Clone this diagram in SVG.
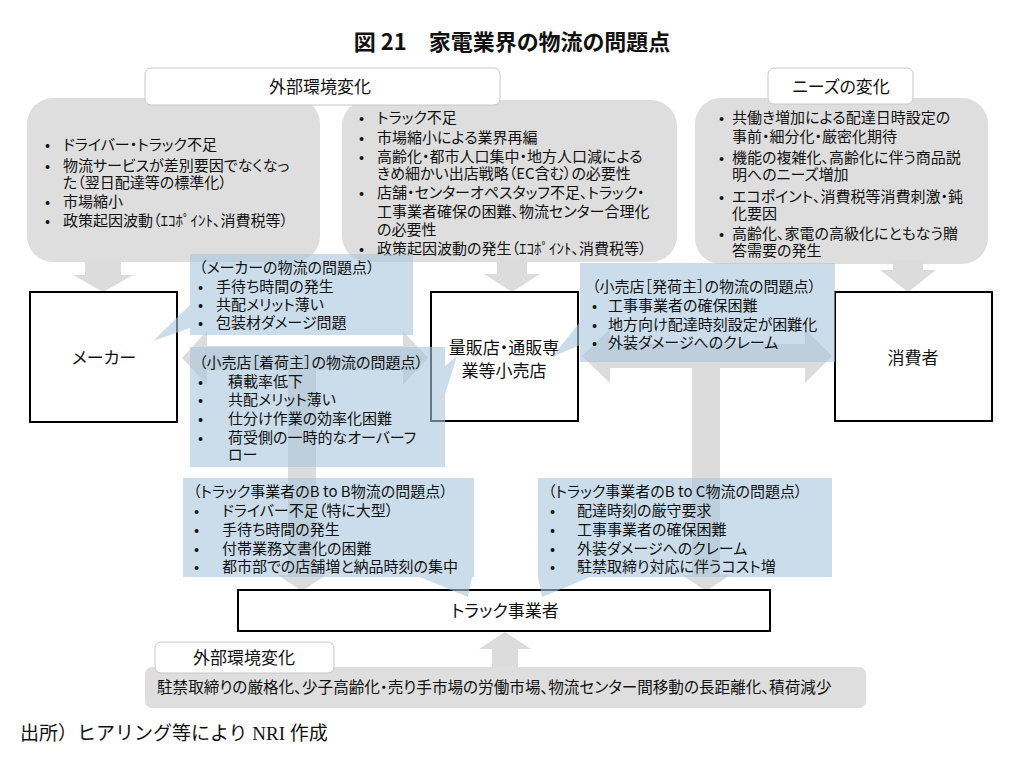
<svg xmlns="http://www.w3.org/2000/svg" width="1024" height="762" viewBox="0 0 1024 762">
<style>
text{font-family:"Noto Sans CJK JP","Noto Sans",sans-serif;font-feature-settings:"palt" 1;fill:#111}
.t{font-size:15px}
.bar{font-size:15.6px}
.lb{font-size:17px}
.nd{font-size:17px}
.gbox{fill:#dedede}
.arr{fill:#dcdcdc}
.node{fill:#fff;stroke:#000;stroke-width:2}
.blue{fill:#a9c6dc;fill-opacity:0.6}
.lbl{fill:#fff;stroke:#c8c8c8;stroke-width:1}
</style>
<rect width="1024" height="762" fill="#fff"/>
<text x="512" y="50" text-anchor="middle" style="font-size:22px;font-weight:bold">図 21　家電業界の物流の問題点</text>

<g id="env-top-left">
<rect class="gbox" x="27" y="98" width="293" height="164" rx="26"/>
<text class="t" x="45" y="150">•</text><text class="t" x="63" y="150">ドライバー・トラック不足</text>
<text class="t" x="45" y="171">•</text><text class="t" x="63" y="171">物流サービスが差別要因でなくなっ</text>
<text class="t" x="63" y="188">た（翌日配達等の標準化）</text>
<text class="t" x="45" y="207">•</text><text class="t" x="63" y="207">市場縮小</text>
<text class="t" x="45" y="226">•</text><text class="t" x="63" y="226">政策起因波動（ｴｺﾎﾟｲﾝﾄ、消費税等）</text>
</g>
<g id="env-top-mid">
<rect class="gbox" x="342" y="100" width="335" height="162" rx="26"/>
<text class="t" x="359" y="123">•</text><text class="t" x="377" y="123">トラック不足</text>
<text class="t" x="359" y="143">•</text><text class="t" x="377" y="143">市場縮小による業界再編</text>
<text class="t" x="359" y="162">•</text><text class="t" x="377" y="162">高齢化・都市人口集中・地方人口減による</text>
<text class="t" x="377" y="179">きめ細かい出店戦略（EC含む）の必要性</text>
<text class="t" x="359" y="198">•</text><text class="t" x="377" y="198">店舗・センターオペスタッフ不足、トラック・</text>
<text class="t" x="377" y="217">工事業者確保の困難、物流センター合理化</text>
<text class="t" x="377" y="235">の必要性</text>
<text class="t" x="359" y="254">•</text><text class="t" x="377" y="254">政策起因波動の発生（ｴｺﾎﾟｲﾝﾄ、消費税等）</text>
</g>
<g id="needs-top-right">
<rect class="gbox" x="695" y="98" width="293" height="166" rx="26"/>
<text class="t" x="719" y="123">•</text><text class="t" x="732" y="123">共働き増加による配達日時設定の</text>
<text class="t" x="732" y="142">事前・細分化・厳密化期待</text>
<text class="t" x="719" y="163">•</text><text class="t" x="732" y="163">機能の複雑化、高齢化に伴う商品説</text>
<text class="t" x="732" y="180">明へのニーズ増加</text>
<text class="t" x="719" y="202">•</text><text class="t" x="732" y="202">エコポイント、消費税等消費刺激・鈍</text>
<text class="t" x="732" y="219">化要因</text>
<text class="t" x="719" y="239">•</text><text class="t" x="732" y="239">高齢化、家電の高級化にともなう贈</text>
<text class="t" x="732" y="256">答需要の発生</text>
</g>
<g id="label-env-top">
<rect class="lbl" x="145" y="68" width="355" height="37" rx="6"/>
<text class="lb" x="320" y="93" text-anchor="middle">外部環境変化</text>
</g>
<g id="label-needs">
<rect class="lbl" x="768" y="68" width="145" height="36" rx="6"/>
<text class="lb" x="841" y="93" text-anchor="middle">ニーズの変化</text>
</g>

<g id="connectors">
<polygon class="arr" points="85,258 121,258 121,275 133,275 103,292 73,275 85,275"/>
<polygon class="arr" points="497,258 527,258 527,274 540,274 512,292 484,274 497,274"/>
<polygon class="arr" points="893,260 923,260 923,270 936,270 908,292 880,270 893,270"/>
<polygon class="arr" points="182,358 207,331 207,346 403,346 403,331 428,358 403,385 403,370 207,370 207,385"/>
<polygon class="arr" points="288,360 316,360 316,575 326,575 302,591 278,575 288,575"/>
<polygon class="arr" points="582,356 610,329 610,344 805,344 805,329 832,356 805,383 805,368 610,368 610,383"/>
<polygon class="arr" points="692,358 720,358 720,575 730,575 706,591 682,575 692,575"/>
<polygon class="arr" points="492,668 518,668 518,649 531,649 505,632 479,649 492,649"/>
</g>

<g id="maker"><rect class="node" x="30" y="292" width="147" height="130"/>
<text class="nd" x="104" y="364" text-anchor="middle">メーカー</text></g>
<g id="retailer"><rect class="node" x="431" y="292" width="147" height="129"/>
<text class="nd" x="504" y="354" text-anchor="middle">量販店・通販専</text>
<text class="nd" x="504" y="377" text-anchor="middle">業等小売店</text></g>
<g id="consumer"><rect class="node" x="835" y="292" width="157" height="129"/>
<text class="nd" x="913" y="364" text-anchor="middle">消費者</text></g>
<g id="trucker"><rect class="node" x="238" y="590" width="532" height="41"/>
<text class="nd" x="505" y="617" text-anchor="middle">トラック事業者</text></g>

<g id="issue-maker">
<path class="blue" d="M190,254 H413 V335 H190 V328 L153,341 L190,305 Z"/>
<text class="t" x="199" y="273">（メーカーの物流の問題点）</text>
<text class="t" x="198" y="292">•</text><text class="t" x="216" y="292">手待ち時間の発生</text>
<text class="t" x="198" y="310">•</text><text class="t" x="216" y="310">共配メリット薄い</text>
<text class="t" x="198" y="328">•</text><text class="t" x="216" y="328">包装材ダメージ問題</text>
</g>
<g id="issue-retail-receive">
<path class="blue" d="M190,347 H445 V366 L457,356 L445,394 V467 H190 Z"/>
<text class="t" x="199" y="368">（小売店［着荷主］の物流の問題点）</text>
<text class="t" x="198" y="387">•</text><text class="t" x="228" y="387">積載率低下</text>
<text class="t" x="198" y="405">•</text><text class="t" x="228" y="405">共配メリット薄い</text>
<text class="t" x="198" y="424">•</text><text class="t" x="228" y="424">仕分け作業の効率化困難</text>
<text class="t" x="198" y="443">•</text><text class="t" x="228" y="443">荷受側の一時的なオーバーフ</text>
<text class="t" x="228" y="460">ロー</text>
</g>
<g id="issue-retail-ship">
<path class="blue" d="M580,263 H835 V362 H580 V345 L552,357 L580,322 Z"/>
<text class="t" x="592" y="292">（小売店［発荷主］の物流の問題点）</text>
<text class="t" x="592" y="311">•</text><text class="t" x="608" y="311">工事事業者の確保困難</text>
<text class="t" x="592" y="330">•</text><text class="t" x="608" y="330">地方向け配達時刻設定が困難化</text>
<text class="t" x="592" y="348">•</text><text class="t" x="608" y="348">外装ダメージへのクレーム</text>
</g>
<g id="issue-truck-b2b">
<path class="blue" d="M183,478 H474 V577 H472 L468,597 L420,577 H183 Z"/>
<text class="t" x="193" y="497">（トラック事業者のB to B物流の問題点）</text>
<text class="t" x="194" y="516">•</text><text class="t" x="222" y="516">ドライバー不足（特に大型）</text>
<text class="t" x="194" y="535">•</text><text class="t" x="222" y="535">手待ち時間の発生</text>
<text class="t" x="194" y="554">•</text><text class="t" x="222" y="554">付帯業務文書化の困難</text>
<text class="t" x="194" y="572">•</text><text class="t" x="222" y="572">都市部での店舗増と納品時刻の集中</text>
</g>
<g id="issue-truck-b2c">
<path class="blue" d="M538,478 H832 V577 H590 L542,597 L538,577 Z"/>
<text class="t" x="548" y="497">（トラック事業者のB to C物流の問題点）</text>
<text class="t" x="550" y="516">•</text><text class="t" x="577" y="516">配達時刻の厳守要求</text>
<text class="t" x="550" y="535">•</text><text class="t" x="577" y="535">工事事業者の確保困難</text>
<text class="t" x="550" y="554">•</text><text class="t" x="577" y="554">外装ダメージへのクレーム</text>
<text class="t" x="550" y="572">•</text><text class="t" x="577" y="572">駐禁取締り対応に伴うコスト増</text>
</g>

<g id="env-bottom">
<rect class="gbox" x="145" y="667" width="721" height="41" rx="7"/>
<text class="bar" x="157" y="693">駐禁取締りの厳格化、少子高齢化・売り手市場の労働市場、物流センター間移動の長距離化、積荷減少</text>
</g>
<g id="label-env-bottom">
<rect class="lbl" x="155" y="642" width="179" height="31" rx="6"/>
<text class="lb" x="244" y="664" text-anchor="middle">外部環境変化</text>
</g>
<text x="20" y="740" style="font-family:'Liberation Serif','Noto Sans CJK JP',serif;font-size:19px;font-feature-settings:normal">出所）ヒアリング等により NRI 作成</text>
</svg>
